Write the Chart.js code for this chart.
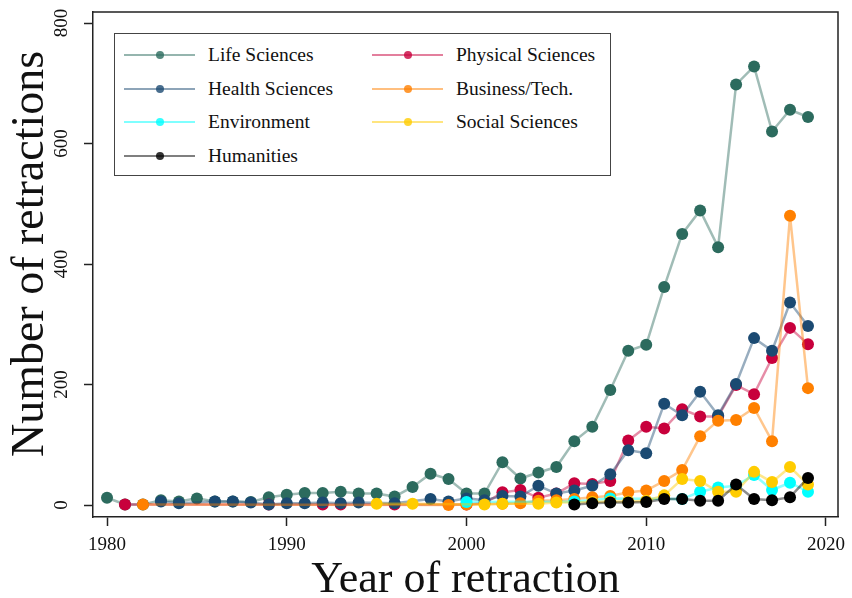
<!DOCTYPE html>
<html>
<head>
<meta charset="utf-8">
<script src="https://cdn.jsdelivr.net/npm/chart.js@4.4.1/dist/chart.umd.min.js"></script>
<style>
html,body{margin:0;padding:0;background:#fff;}
#wrap{position:relative;width:852px;height:598px;}
#c{display:block;}
#legend{position:absolute;left:114px;top:33px;width:497px;height:143px;border:1.5px solid #444;box-sizing:border-box;background:#fff;
  font-family:"Liberation Serif","DejaVu Serif",serif;font-size:19.5px;color:#111;}
.lg-item{position:absolute;height:24px;}
.lg-line{position:absolute;top:11px;height:2.5px;width:71px;}
.lg-dot{position:absolute;top:8.5px;width:8px;height:8px;border-radius:50%;}
.lg-text{position:absolute;top:0;line-height:24px;white-space:nowrap;}
</style>
</head>
<body>
<div id="wrap">
<canvas id="c" width="852" height="598"></canvas>
<div id="legend"></div>
</div>
<script>
// ---- data ----
const years = [1980,1981,1982,1983,1984,1985,1986,1987,1988,1989,
               1990,1991,1992,1993,1994,1995,1996,1997,1998,1999,
               2000,2001,2002,2003,2004,2005,2006,2007,2008,2009,
               2010,2011,2012,2013,2014,2015,2016,2017,2018,2019];
const xTicks = [1980,1990,2000,2010,2020];
const yTicks = [0,200,400,600,800];

const lifeSciences = [12,1,1,8,6,11,6,6,5,13,
                      17,20,20,22,19,19,14,30,52,43,
                      19,19,71,44,54,63,106,130,191,256,
                      266,362,450,489,428,698,728,620,656,644];
const physicalSciences = [null,1,null,null,null,null,null,null,null,1,
                      null,null,1,1,null,null,1,null,null,null,
                      1,3,21,25,12,19,36,35,40,107,
                      130,127,159,147,147,199,184,244,294,267];
const healthSciences = [null,null,null,6,3,null,6,6,4,1,
                      3,3,4,3,4,null,3,null,10,6,
                      11,8,15,14,32,19,24,32,51,91,
                      86,168,149,188,149,201,277,256,336,297];
const businessTech = [null,null,1,null,null,null,null,null,null,null,
                      null,null,null,null,null,null,null,null,null,0,
                      1,null,2,3,7,8,10,13,15,21,
                      24,40,58,114,140,141,161,106,480,194];
const environment = [null,null,null,null,null,null,null,null,null,null,
                      null,null,null,null,null,null,null,null,null,null,
                      5,null,null,null,null,null,6,null,11,null,
                      null,null,10,22,29,32,50,25,37,22];
const socialSciences = [null,null,null,null,null,null,null,null,null,null,
                      null,null,null,null,null,2,null,2,null,null,
                      null,1,2,null,2,4,null,5,6,6,
                      7,16,43,40,22,22,55,38,63,34];
const humanities = [null,null,null,null,null,null,null,null,null,null,
                      null,null,null,null,null,null,null,null,null,null,
                      null,null,null,null,null,null,1,3,4,4,
                      5,10,10,7,7,34,10,8,13,45];

const seriesLabels = ["Life Sciences","Physical Sciences","Health Sciences","Business/Tech.","Environment","Social Sciences","Humanities"];
const seriesValues = [lifeSciences,physicalSciences,healthSciences,businessTech,environment,socialSciences,humanities];
const seriesColors = ["#2c6b5e","#c8003c","#1b4a72","#ff8000","#00ffff","#ffcc00","#000000"];
const xTitle = "Year of retraction";
const yTitle = "Number of retractions";

function rgba(hex,a){
  const n=parseInt(hex.slice(1),16);
  return `rgba(${(n>>16)&255},${(n>>8)&255},${n&255},${a})`;
}

const datasets = seriesLabels.map((lab,k)=>({
  label: lab,
  data: years.map((yr,i)=>({x:yr,y:seriesValues[k][i]})).filter(p=>p.y!==null),
  borderColor: rgba(seriesColors[k],0.45),
  backgroundColor: seriesColors[k],
  pointBackgroundColor: seriesColors[k],
  pointBorderWidth: 0,
  pointRadius: 6,
  pointHoverRadius: 6,
  borderWidth: 2.5,
  tension: 0,
  fill: false,
  order: seriesLabels.length - k
}));

const SERIF = "'Liberation Serif','DejaVu Serif',serif";
const frame = {
  id:'frame',
  afterDraw(chart){
    const {ctx, chartArea:a} = chart;
    ctx.save();
    ctx.strokeStyle='#222'; ctx.lineWidth=1.5;
    ctx.beginPath();
    ctx.moveTo(a.left, a.top); ctx.lineTo(a.right, a.top); ctx.lineTo(a.right, a.bottom);
    ctx.stroke();
    // y axis title, centred like the reference
    ctx.fillStyle='#111';
    ctx.font = "46px " + SERIF;
    ctx.textAlign='center'; ctx.textBaseline='middle';
    ctx.translate(31, 254);
    ctx.rotate(-Math.PI/2);
    ctx.fillText(yTitle, 0, 0);
    ctx.restore();
  }
};

new Chart(document.getElementById('c'), {
  type:'line',
  data:{datasets},
  options:{
    responsive:false,
    animation:false,
    layout:{padding:{left:0,right:14,top:12,bottom:0}},
    plugins:{legend:{display:false},tooltip:{enabled:false}},
    scales:{
      x:{
        type:'linear', min:1979.22, max:2020.67,
        afterBuildTicks(s){ s.ticks = xTicks.map(v=>({value:v})); },
        afterFit(s){ s.height = 81; s.paddingLeft = 0; s.paddingRight = 0; },
        grid:{drawOnChartArea:false, drawTicks:true, tickLength:9, color:'#222', tickWidth:1.5},
        border:{display:true, color:'#222', width:1.5},
        ticks:{font:{family:SERIF,size:19}, color:'#111', padding:8, maxRotation:0, autoSkip:false,
               callback:v=>String(v)},
        title:{display:true, text:xTitle, font:{family:SERIF,size:44,lineHeight:0.8}, color:'#111', padding:{top:0,bottom:0}}
      },
      y:{
        type:'linear', min:-19.9, max:818.3,
        afterBuildTicks(s){ s.ticks = yTicks.map(v=>({value:v})); },
        afterFit(s){ s.width = 93; s.paddingTop = 0; s.paddingBottom = 0; },
        grid:{drawOnChartArea:false, drawTicks:true, tickLength:9, color:'#222', tickWidth:1.5},
        border:{display:true, color:'#222', width:1.5},
        ticks:{font:{family:SERIF,size:19}, color:'#111', padding:8, minRotation:90, maxRotation:90, crossAlign:'center',
               callback:v=>String(v)},
        title:{display:false}
      }
    }
  },
  plugins:[frame]
});

// ---- legend (real text) ----
const lg = document.getElementById('legend');
const legendRows = [22,56,89,123];
const legendCols = [{line:9,text:93},{line:257,text:341}];
seriesLabels.forEach((lab,k)=>{
  const col = k % 2, row = Math.floor(k/2);
  const item = document.createElement('div');
  item.className='lg-item';
  item.style.left = '0px';
  item.style.top = (legendRows[row]-12-1.5)+'px';
  const c = legendCols[col];
  item.innerHTML =
    `<div class="lg-line" style="left:${c.line}px;background:${rgba(seriesColors[k],0.5)}"></div>`+
    `<div class="lg-dot" style="left:${c.line+31.5}px;background:${rgba(seriesColors[k],0.8)}"></div>`+
    `<div class="lg-text" style="left:${c.text}px">${lab}</div>`;
  lg.appendChild(item);
});
</script>
</body>
</html>
